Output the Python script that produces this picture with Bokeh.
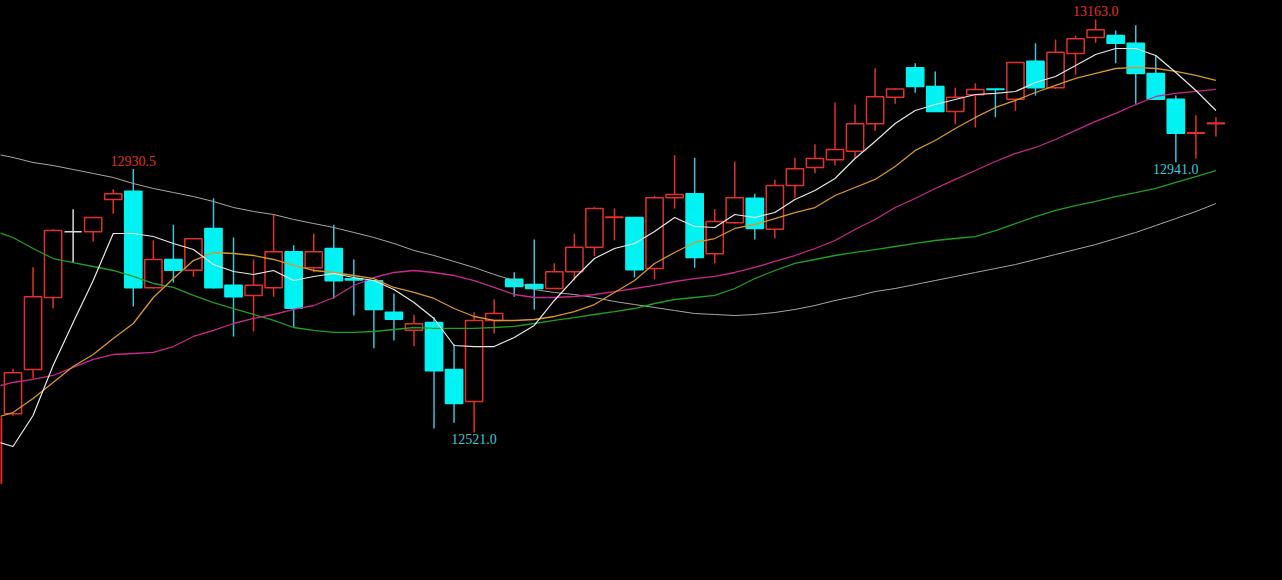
from bokeh.plotting import figure
from bokeh.models import Range1d, ColumnDataSource
from bokeh.embed import file_html
from bokeh.resources import INLINE
from bokeh.core.properties import value

# ---- data ----
idx = list(range(-1, 61))
opens = [12442, 12550, 12619, 12731, 12833, 12833, 12883, 12896, 12746, 12790,
         12773, 12838, 12750, 12734, 12746, 12802, 12777, 12807, 12760, 12757,
         12708, 12680, 12692, 12619, 12569, 12695, 12759, 12751, 12745, 12771,
         12809, 12855, 12855, 12776, 12886, 12892, 12799, 12847, 12885, 12837,
         12905, 12933, 12945, 12958, 13001, 13042, 13088, 13059, 13020, 13046,
         13055, 13039, 13098, 13057, 13110, 13135, 13138, 13126, 13079, 13039,
         12986, 13001]
highs = [12546, 12620, 12778, 12837, 12868, 12856, 12899, 12930.5, 12820, 12844,
         12823, 12885, 12824, 12790, 12860, 12812, 12830, 12844, 12790, 12758,
         12737, 12704, 12700, 12658, 12708, 12728, 12770, 12821, 12784, 12830,
         12871, 12869, 12856, 12889, 12952, 12948, 12868, 12942, 12892, 12914,
         12948, 12969, 13034, 13031, 13087, 13056, 13095, 13082, 13057, 13064,
         13055, 13096, 13126, 13132, 13138, 13163, 13146, 13154, 13107, 13045,
         13014, 13011]
lows = [12440, 12547, 12605, 12714, 12785, 12818, 12861, 12717, 12745, 12754,
        12763, 12745, 12670, 12678, 12732, 12684, 12770, 12729, 12703, 12652,
        12664, 12655, 12527, 12536, 12521, 12675, 12732, 12712, 12744, 12757,
        12795, 12820, 12762, 12759, 12869, 12777, 12784, 12846, 12821, 12823,
        12886, 12924, 12936, 12948, 12990, 13032, 13049, 13019, 13000, 12995,
        13011, 13021, 13045, 13055, 13077, 13127, 13095, 13032, 13038, 12941,
        12947, 12981]
closes = [12544, 12614, 12732, 12835, 12833, 12855, 12892, 12746, 12790, 12773,
          12822, 12746, 12732, 12750, 12802, 12714, 12802, 12757, 12758, 12712,
          12697, 12690, 12617, 12566, 12695, 12706, 12748, 12745, 12771, 12809,
          12869, 12856, 12774, 12886, 12891, 12793, 12849, 12886, 12838, 12905,
          12931, 12947, 12961, 13001, 13043, 13055, 13059, 13020, 13042, 13054,
          13054, 13096, 13057, 13112, 13133, 13147, 13126, 13079, 13039, 12986,
          12987, 13002]

ma5 = [12508.5, 12499.2, 12547.4, 12625.1, 12692.0, 12757.2, 12830.3, 12830.3, 12825.6, 12814.8,
       12805.4, 12782.1, 12771.2, 12766.6, 12772.8, 12757.2, 12763.5, 12768.1, 12761.9, 12757.2,
       12743.2, 12723.0, 12698.2, 12656.2, 12654.6, 12654.6, 12668.6, 12687.3, 12726.2, 12760.3,
       12791.4, 12807.0, 12814.8, 12833.4, 12855.2, 12841.2, 12839.6, 12859.8, 12855.2, 12862.9,
       12883.2, 12897.1, 12915.8, 12946.9, 12973.3, 13001.3, 13021.5, 13030.8, 13038.6, 13046.4,
       13048.0, 13051.0, 13065.0, 13074.4, 13091.4, 13108.5, 13117.9, 13117.9, 13107.0, 13080.6,
       13052.6, 13021.5]
ma10 = [12542.7, 12552.0, 12573.8, 12598.7, 12623.6, 12642.2, 12667.1, 12690.4, 12730.8, 12760.3,
        12788.3, 12800.8, 12799.2, 12796.1, 12789.9, 12780.6, 12772.8, 12769.7, 12765.0, 12760.3,
        12746.4, 12738.6, 12729.3, 12713.7, 12701.3, 12695.1, 12695.1, 12696.6, 12701.3, 12709.0,
        12719.9, 12738.6, 12757.2, 12783.7, 12800.8, 12816.3, 12822.5, 12838.1, 12844.3, 12853.6,
        12862.9, 12870.7, 12889.4, 12901.8, 12914.3, 12934.5, 12959.4, 12974.9, 12993.6, 13010.7,
        13026.2, 13037.1, 13049.5, 13060.4, 13071.3, 13079.1, 13086.8, 13088.4, 13086.8, 13082.2,
        13076.0, 13068.2]
ma20 = [12590.9, 12598.7, 12603.4, 12609.6, 12622.1, 12634.5, 12642.2, 12643.8, 12645.4, 12654.6,
        12670.2, 12679.6, 12690.4, 12698.2, 12704.4, 12712.2, 12718.4, 12730.8, 12749.5, 12761.9,
        12769.7, 12772.8, 12769.7, 12765.0, 12757.2, 12746.4, 12735.5, 12730.8, 12730.8, 12732.4,
        12735.5, 12740.1, 12744.8, 12749.5, 12755.7, 12760.3, 12763.5, 12769.7, 12777.5, 12786.8,
        12796.1, 12807.0, 12819.4, 12836.5, 12852.1, 12870.7, 12884.7, 12900.3, 12914.3, 12928.2,
        12942.2, 12954.7, 12964.0, 12976.4, 12990.5, 13004.5, 13016.9, 13030.8, 13043.3, 13048.0,
        13051.1, 13054.2]
ma60 = [12834.9, 12824.1, 12807.0, 12791.4, 12785.2, 12779.0, 12772.8, 12763.5, 12752.6, 12746.4,
        12734.0, 12723.0, 12713.7, 12704.4, 12695.1, 12684.2, 12679.6, 12676.5, 12676.5, 12678.0,
        12681.1, 12684.2, 12682.7, 12682.7, 12682.7, 12684.2, 12685.8, 12690.4, 12695.1, 12699.7,
        12704.4, 12709.0, 12713.7, 12721.5, 12727.7, 12730.8, 12734.0, 12744.8, 12760.3, 12772.8,
        12783.7, 12789.9, 12796.1, 12800.8, 12805.4, 12810.1, 12814.8, 12819.4, 12822.5, 12825.6,
        12834.9, 12845.8, 12856.7, 12866.1, 12873.8, 12880.1, 12887.8, 12894.0, 12900.3, 12909.6,
        12918.9, 12928.2]
ma120 = [12954.7, 12948.5, 12940.7, 12936.0, 12929.8, 12923.6, 12917.4, 12908.0, 12900.3, 12894.0,
         12887.8, 12880.0, 12870.7, 12864.5, 12859.8, 12852.1, 12845.8, 12839.6, 12831.9, 12824.1,
         12814.8, 12803.9, 12796.1, 12786.8, 12777.5, 12766.6, 12757.2, 12743.2, 12738.6, 12735.5,
         12730.8, 12724.6, 12719.9, 12715.3, 12710.6, 12705.9, 12704.4, 12702.8, 12704.4, 12707.5,
         12712.2, 12718.4, 12726.2, 12732.4, 12740.1, 12744.8, 12751.0, 12757.2, 12763.5, 12769.7,
         12775.9, 12782.1, 12789.9, 12797.7, 12805.4, 12813.2, 12822.5, 12831.9, 12842.7, 12853.6,
         12864.5, 12876.9]

hi_label_idx = [6, 54]
hi_label_val = [12930.5, 13163.0]
lo_label_idx = [23, 58]
lo_label_val = [12521.0, 12941.0]

# ---- styling ----
RED = "#e0302a"
CYAN = "#00f2f2"
CYAN_WICK = "#38c4da"
DOJI = "#d8d8d8"

colors, wick_colors, fills = [], [], []
for o, c in zip(opens, closes):
    if c > o:
        colors.append(RED); wick_colors.append(RED); fills.append("#000000")
    elif c < o:
        colors.append(CYAN); wick_colors.append(CYAN_WICK); fills.append(CYAN)
    else:
        colors.append(DOJI); wick_colors.append(DOJI); fills.append(DOJI)

src = ColumnDataSource(dict(
    x=idx, o=opens, h=highs, l=lows, c=closes,
    top=[max(a, b) for a, b in zip(opens, closes)],
    bot=[min(a, b) for a, b in zip(opens, closes)],
    col=colors, wcol=wick_colors, fill=fills,
))

p = figure(width=1282, height=580,
           x_range=Range1d(-0.623, 63.32), y_range=Range1d(12290.9, 13192.5),
           output_backend="svg", toolbar_location=None,
           x_axis_location=None, y_axis_location=None,
           background_fill_color="#000000", border_fill_color="#000000",
           outline_line_color=None, min_border=0)
p.grid.visible = False

p.segment(x0="x", y0="l", x1="x", y1="h", line_color="wcol", line_width=1.5, source=src)
p.vbar(x="x", width=0.86, top="top", bottom="bot", fill_color="fill",
       line_color="col", line_width=1.5, source=src)

p.line(idx, ma120, line_color="#a6a6a6", line_width=1)
p.line(idx, ma60, line_color="#1f9e1f", line_width=1.3)
p.line(idx, ma20, line_color="#c8288a", line_width=1.3)
p.line(idx, ma10, line_color="#d8962c", line_width=1.3)
p.line(idx, ma5, line_color="#e8e8e8", line_width=1.2)

p.text(x=hi_label_idx, y=hi_label_val, text=[f"{v:.1f}" for v in hi_label_val],
       text_align="center", text_baseline="bottom", y_offset=-3,
       text_color=RED, text_font=value("Liberation Serif"), text_font_size="14px")
p.text(x=lo_label_idx, y=lo_label_val, text=[f"{v:.1f}" for v in lo_label_val],
       text_align="center", text_baseline="top", y_offset=2,
       text_color="#3cc8dc", text_font=value("Liberation Serif"), text_font_size="14px")

html = file_html(p, INLINE, title="chart")
html = html.replace("<head>", "<head>\n<style>html, body { background: #000000; }</style>", 1)
open("out.html", "w").write(html)
